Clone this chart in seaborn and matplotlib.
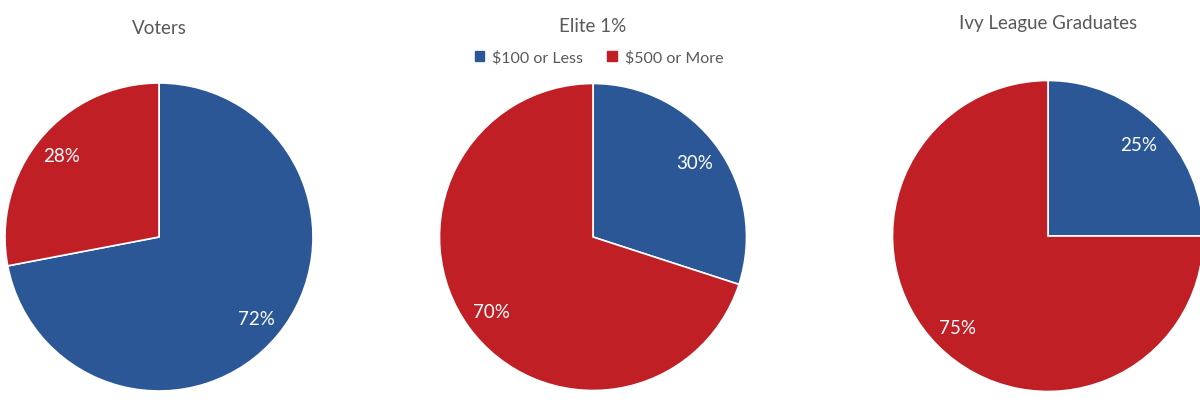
import numpy as np
import matplotlib
matplotlib.use("Agg")
import matplotlib.pyplot as plt
import seaborn as sns

# data
groups = ["Voters", "Elite 1%", "Ivy League Graduates"]
less_100 = [72, 30, 25]
more_500 = [28, 70, 75]
legend_labels = ["\\$100 or Less", "\\$500 or More"]

sns.set_theme(style="white")
plt.rcParams['font.family'] = ['Lato', 'DejaVu Sans']

blue = "#2B5797"
red = "#C01F26"
gray = "#595959"

W, H = 1200, 406
fig = plt.figure(figsize=(W / 100, H / 100), dpi=100)

# pie centres/radii in pixels
centers = [(159, 238, 154), (593, 238, 153.5), (1048, 237, 155.5)]
title_y = [28, 26, 24]

for i, name in enumerate(groups):
    cx, cy, r = centers[i]
    pad = 1.04
    ax = fig.add_axes([(cx - pad * r) / W, (H - cy - pad * r) / H,
                       2 * pad * r / W, 2 * pad * r / H])
    vals = [less_100[i], more_500[i]]
    wedges, texts = ax.pie(vals, colors=[blue, red],
                           startangle=90, counterclock=False,
                           wedgeprops=dict(edgecolor="white", linewidth=1.2))
    # percentage labels
    for w, v in zip(wedges, vals):
        ang = np.deg2rad((w.theta1 + w.theta2) / 2)
        ax.text(0.82 * np.cos(ang), 0.83 * np.sin(ang), f"{v}%",
                ha="center", va="center", color="white", fontsize=13.5)
    ax.set_xlim(-pad, pad)
    ax.set_ylim(-pad, pad)
    ax.set_aspect("equal")
    ax.axis("off")
    fig.text(cx / W, 1 - title_y[i] / H, name, ha="center", va="center",
             color=gray, fontsize=13.5)

    if i == 1:
        handles = [plt.Rectangle((0, 0), 1, 1, color=c) for c in [blue, red]]
        fig.legend(handles, legend_labels, loc="center",
                   bbox_to_anchor=(599 / W, 1 - 58 / H), ncol=2, frameon=False,
                   fontsize=11.5, labelcolor=gray, handlelength=0.6,
                   handleheight=0.6, handletextpad=0.5, columnspacing=1.5)

fig.savefig("out.png", dpi=100)
